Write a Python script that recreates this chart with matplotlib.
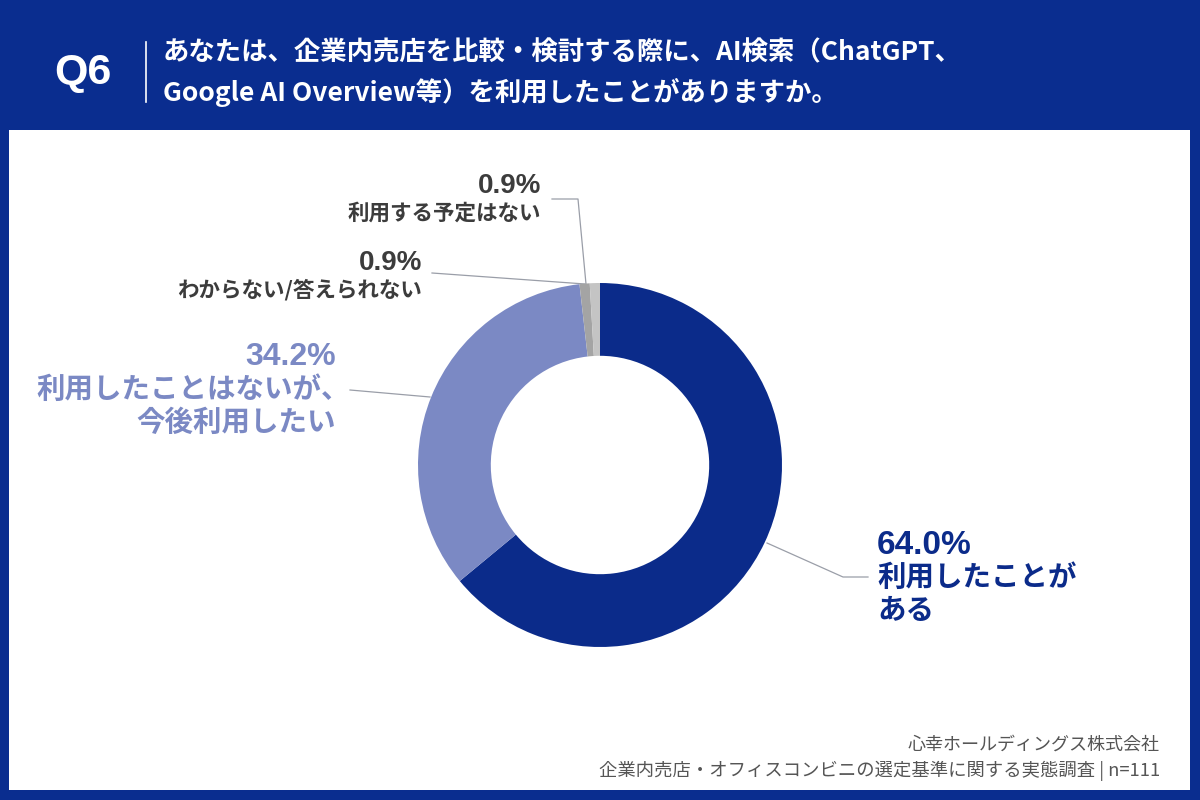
import matplotlib
matplotlib.use("Agg")
import matplotlib.pyplot as plt
from matplotlib.patches import Rectangle

plt.rcParams['font.family'] = ['Noto Sans CJK JP', 'DejaVu Sans']
num_font = ['Liberation Sans', 'DejaVu Sans']

# data
labels = ["利用したことが\nある", "利用したことはないが、\n今後利用したい",
          "わからない/答えられない", "利用する予定はない"]
values = [64.0, 34.2, 0.9, 0.9]
colors = ["#0b2b8a", "#7b89c4", "#a4a4a4", "#c4c4c4"]
pct_text = ["64.0%", "34.2%", "0.9%", "0.9%"]

navy = "#0a2d8f"
title_lines = ["あなたは、企業内売店を比較・検討する際に、AI検索（ChatGPT、",
               "Google AI Overview等）を利用したことがありますか。"]
source1 = "心幸ホールディングス株式会社"
source2 = "企業内売店・オフィスコンビニの選定基準に関する実態調査 | n=111"

W, H = 1200, 800
fig = plt.figure(figsize=(12, 8), dpi=100)
fig.patch.set_facecolor(navy)

bg = fig.add_axes([0, 0, 1, 1])
bg.set_xlim(0, W)
bg.set_ylim(H, 0)
bg.axis("off")
bg.add_patch(Rectangle((9, 130), 1181, 660, facecolor="white", edgecolor="none"))

# header
bg.text(54, 73, "Q6", color="white", fontsize=31, fontweight="bold", va="center", ha="left",
        family=num_font)
bg.plot([146, 146], [42, 102], color="white", lw=1.2)
bg.text(163, 53, title_lines[0], color="white", fontsize=19, fontweight="bold", va="center", ha="left")
bg.text(163, 92, title_lines[1], color="white", fontsize=19, fontweight="bold", va="center", ha="left")

# donut
cx, cy, R = 600, 465, 182
pie_ax = fig.add_axes([(cx - R) / W, (H - cy - R) / H, 2 * R / W, 2 * R / H])
pie_ax.pie(values, colors=colors, startangle=90, counterclock=False,
           wedgeprops=dict(width=0.40, edgecolor="none"))
pie_ax.set_xlim(-1, 1)
pie_ax.set_ylim(-1, 1)
pie_ax.set_aspect("equal")
pie_ax.axis("off")

line_c = "#9a9ea8"
# leader lines (pixel coords)
bg.plot([767, 843, 868], [543, 577, 577], color=line_c, lw=0.9, zorder=5)
bg.plot([350, 430], [390, 397], color=line_c, lw=0.9, zorder=5)
bg.plot([432, 585], [273, 284], color=line_c, lw=0.9, zorder=5)
bg.plot([552, 578, 586], [199, 199, 284], color=line_c, lw=0.9, zorder=5)

# labels
dark_txt = "#3c3c3c"
bg.text(877, 546, pct_text[0], color=colors[0], fontsize=24, fontweight="bold", va="center", ha="left",
        family=num_font)
bg.text(877, 578, labels[0].split("\n")[0], color=colors[0], fontsize=20.5, fontweight="bold",
        va="center", ha="left")
bg.text(877, 611, labels[0].split("\n")[1], color=colors[0], fontsize=20.5, fontweight="bold",
        va="center", ha="left")

bg.text(336, 357, pct_text[1], color=colors[1], fontsize=23, fontweight="bold", va="center", ha="right",
        family=num_font)
bg.text(350, 390, labels[1].split("\n")[0], color=colors[1], fontsize=20.5, fontweight="bold",
        va="center", ha="right")
bg.text(336, 423, labels[1].split("\n")[1], color=colors[1], fontsize=20.5, fontweight="bold",
        va="center", ha="right")

bg.text(422, 263, pct_text[2], color=dark_txt, fontsize=20, fontweight="bold", va="center", ha="right",
        family=num_font)
bg.text(422, 290, labels[2], color=dark_txt, fontsize=15.5, fontweight="bold", va="center", ha="right")

bg.text(541, 186, pct_text[3], color=dark_txt, fontsize=20, fontweight="bold", va="center", ha="right",
        family=num_font)
bg.text(541, 213, labels[3], color=dark_txt, fontsize=15.5, fontweight="bold", va="center", ha="right")

# source
bg.text(1160, 745, source1, color="#555555", fontsize=13, va="center", ha="right")
bg.text(1160, 771, source2, color="#555555", fontsize=13.2, va="center", ha="right")

fig.savefig("out.png", dpi=100, facecolor=navy)
